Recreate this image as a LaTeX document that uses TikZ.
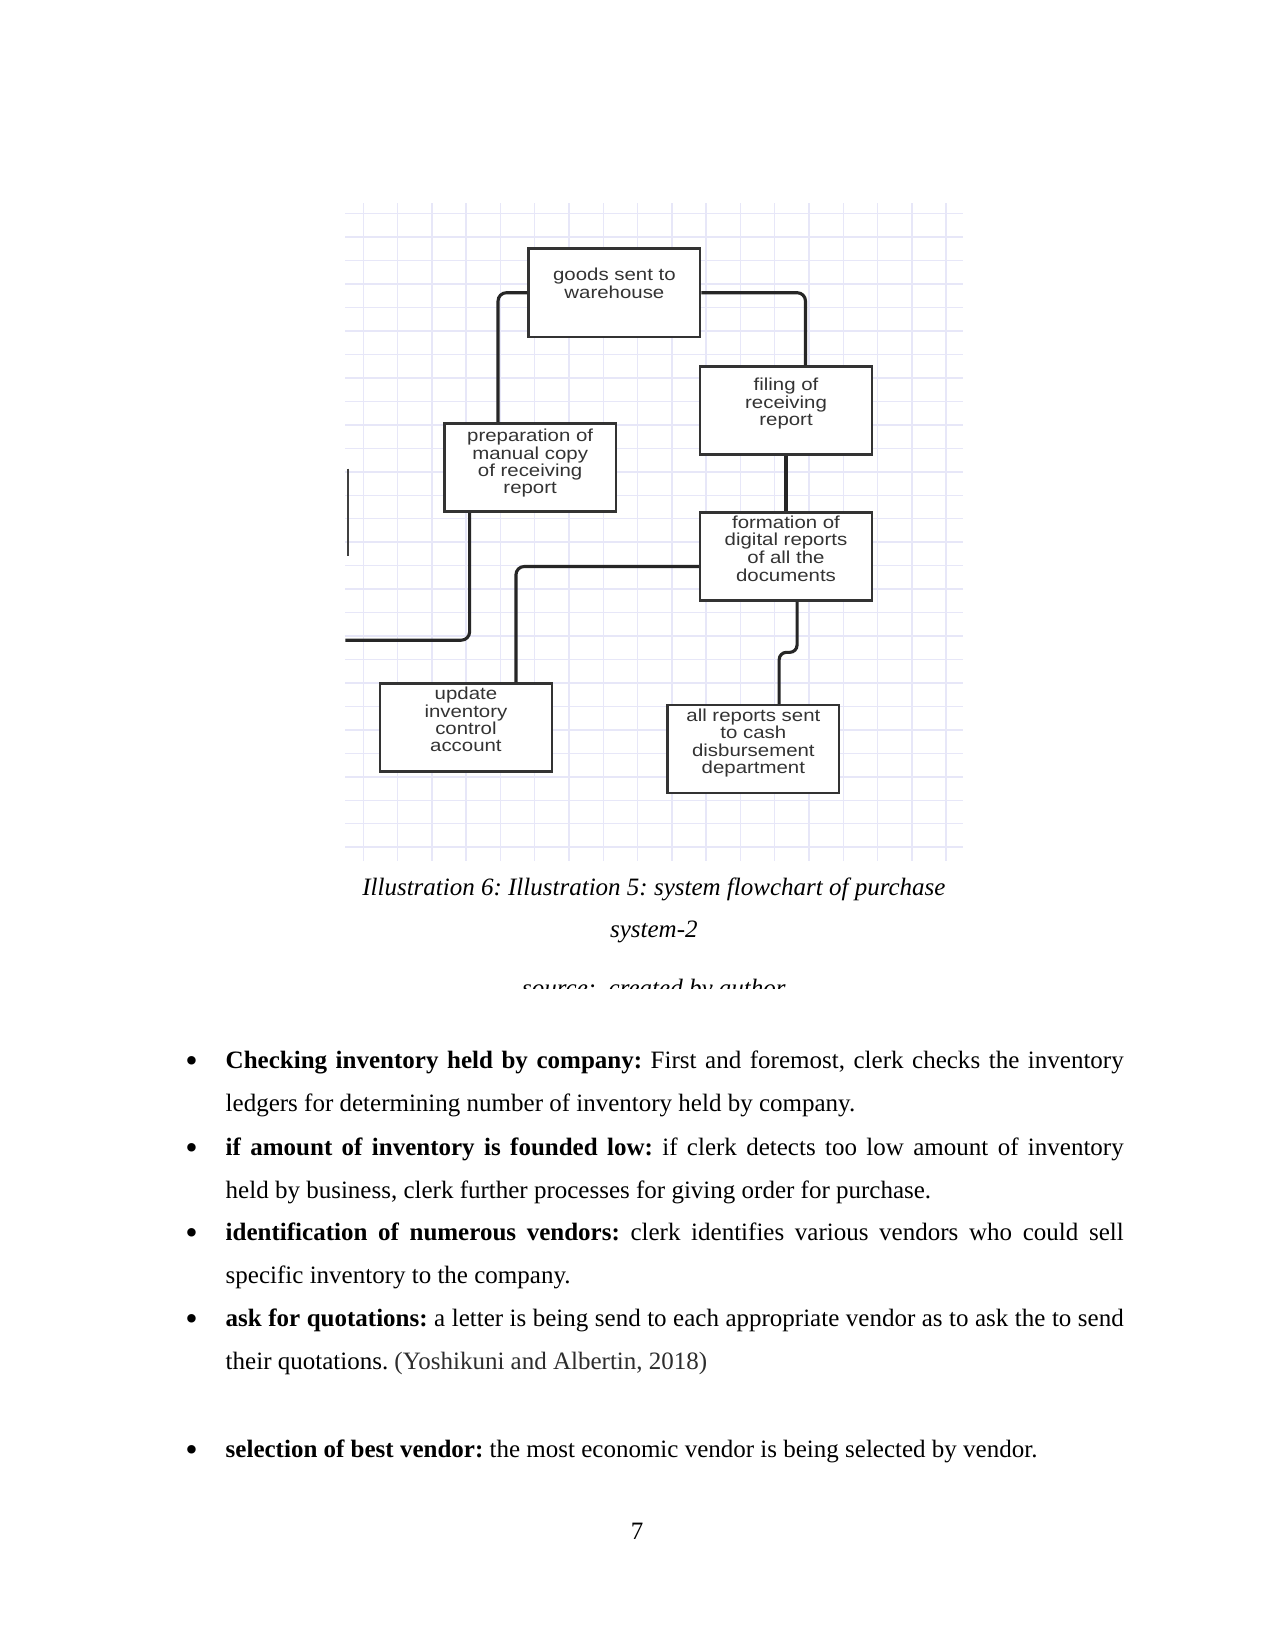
\documentclass[tikz,border=0pt]{standalone}
\usepackage{fontspec}
\setmainfont{Liberation Serif}
\newfontfamily\chartfont{Liberation Sans}
\usepackage{graphicx}
\usepackage{xcolor}
\usetikzlibrary{positioning,calc}
\frenchspacing

\definecolor{gridblue}{RGB}{231,231,248}
\definecolor{citegray}{RGB}{45,45,45}

\newcommand{\boxlines}[1]{\scalebox{1}[0.85]{\begin{tabular}{@{}c@{}}#1\end{tabular}}}
\newcommand{\fullline}[1]{\makebox[431pt][s]{#1}}

\begin{document}
\begin{tikzpicture}[
  x=0.50535pt, y=-0.50535pt,
  procbox/.style={draw=black!80, line width=1.2pt, fill=white,
    minimum width=82.4pt, minimum height=42.3pt, inner sep=0pt},
  boxtext/.style={anchor=north, inner sep=0pt, text=black!80,
    font=\chartfont\fontsize{9.8}{9.5}\selectfont},
  conn/.style={draw=black!85, line width=1.5pt, rounded corners=4pt},
  gridline/.style={draw=gridblue, line width=0.7pt},
  bodytext/.style={anchor=base west, inner sep=0pt, font=\fontsize{12}{14}\selectfont},
  dot/.style={anchor=base, inner sep=0pt, font=\fontsize{17}{17}\selectfont},
  pagenum/.style={anchor=base, inner sep=0pt, font=\fontsize{12}{14}\selectfont},
  captext/.style={anchor=base, inner sep=0pt, font=\itshape\fontsize{12}{14}\selectfont}
]
\useasboundingbox[fill=white] (0,0) rectangle (1211,1568);

% grid paper behind the chart
\foreach \i in {0,...,17} \draw[gridline] (345+\i*32.56,193) -- (345+\i*32.56,818);
\foreach \j in {0,...,27} \draw[gridline] (328,203+\j*22.28) -- (915,203+\j*22.28);

% process boxes
\node[procbox] (goods) at (583.5,278) {};
\node[procbox] (filing) at (746.5,390) {};
\node[procbox] (prep) at (503.5,444) {};
\node[procbox] (formation) at (746.5,528.5) {};
\node[procbox] (update) at (442.5,691) {};
\node[procbox] (allrep) at (715.5,711.5) {};

\node[boxtext] (goods-t) at ($(goods.north)+(0,19)$) {\boxlines{goods sent to\\warehouse}};
\node[boxtext] (filing-t) at ($(filing.north)+(0,12)$) {\boxlines{filing of\\receiving\\report}};
\node[boxtext] (prep-t) at ($(prep.north)+(0,6)$) {\boxlines{preparation of\\manual copy\\of receiving\\report}};
\node[boxtext] (formation-t) at ($(formation.north)+(0,4)$) {\boxlines{formation of\\digital reports\\of all the\\documents}};
\node[boxtext] (update-t) at ($(update.north)+(0,4)$) {\boxlines{update\\inventory\\control\\account}};
\node[boxtext] (allrep-t) at ($(allrep.north)+(0,4)$) {\boxlines{all reports sent\\to cash\\disbursement\\department}};

% connectors
\coordinate (cut-west) at (328,608);
\coordinate (bar-top) at (330.5,445);
\coordinate (bar-bot) at (330.5,528);
\draw[conn] (goods.west) -| ($(prep.north)+(-30.5,0)$);
\draw[conn] (goods.east) -| ($(filing.north)+(18.5,0)$);
\draw[conn] (filing.south) -- (formation.north);
\draw[conn] ($(formation.west)+(0,9.5)$) -| ($(update.north)+(47.5,0)$);
\draw[conn, rounded corners=3.5pt] ($(formation.south)+(10.5,0)$) -- ++(0,48) -| ($(allrep.north)+(24.5,0)$);
\draw[conn] ($(prep.south)+(-57.5,0)$) |- (cut-west);
\draw[draw=black!75, line width=1.2pt] (bar-top) -- (bar-bot);

% caption
\node[captext] (cap1) at (621,850) {Illustration 6: Illustration 5: system flowchart of purchase};
\node[captext] (cap2) at (621,890) {system-2};
\begin{scope}
  \clip (300,900) rectangle (950,939);
  \node[captext] (cap3) at (621,946) {source:\ \ created by author};
\end{scope}

% bullet list
\foreach \y in {1015,1097,1178,1260,1384}
  \node[dot] at (182,\y+4) {\textbullet};
\node[bodytext] (chk-a) at (214,1015) {\fullline{\textbf{Checking inventory held by company:} First and foremost, clerk checks the inventory}};
\node[bodytext] (chk-b) at (214,1056) {ledgers for determining number of inventory held by company.};
\node[bodytext] (low-a) at (214,1097) {\fullline{\textbf{if amount of inventory is founded low:} if clerk detects too low amount of inventory}};
\node[bodytext] (low-b) at (214,1138) {held by business, clerk further processes for giving order for purchase.};
\node[bodytext] (ven-a) at (214,1178) {\fullline{\textbf{identification of numerous vendors:} clerk identifies various vendors who could sell}};
\node[bodytext] (ven-b) at (214,1219) {specific inventory to the company.};
\node[bodytext] (quo-a) at (214,1260) {\fullline{\textbf{ask for quotations:} a letter is being send to each appropriate vendor as to ask the to send}};
\node[bodytext] (quo-b) at (214,1301) {their quotations. {\color{citegray}(Yoshikuni and Albertin, 2018)}};
\node[bodytext] (sel-a) at (214,1384) {\textbf{selection of best vendor:} the most economic vendor is being selected by vendor.};

% page number
\node[pagenum] (pageno) at (605,1462) {7};
\end{tikzpicture}
\end{document}
